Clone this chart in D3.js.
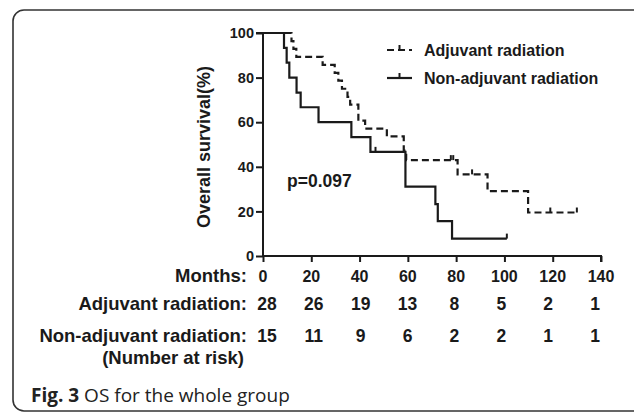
<!DOCTYPE html>
<html><head><meta charset="utf-8">
<script src="https://cdn.jsdelivr.net/npm/d3@7"></script>
<style>
html,body{margin:0;padding:0;background:#fff;}
svg{display:block;}
</style></head>
<body>
<svg id="chart" width="634" height="413"></svg>
<script>
// ---- data ----
const monthTicks = [0, 20, 40, 60, 80, 100, 120, 140];
const survTicks = [0, 20, 40, 60, 80, 100];
const seriesNames = ["Adjuvant radiation", "Non-adjuvant radiation"];

const adjTimes = [0, 11.8, 12.6, 13.8, 24.7, 29.7, 31.2, 32.7, 35.0, 36.1, 39.5, 42.3, 51.3, 58.3, 59.3, 80.6, 93.0, 109.8, 130];
const adjSurv  = [100, 96.4, 92.9, 89.3, 85.7, 82.1, 78.6, 75.0, 71.4, 67.9, 60.7, 57.1, 53.6, 47.3, 43.0, 36.6, 29.1, 19.5, 19.5];
const adjCensorTimes = [77.8, 78.8, 86.6, 119, 130];
const adjCensorSurv  = [43.0, 43.0, 36.6, 19.5, 19.5];

const nonTimes = [0, 8.7, 9.8, 10.9, 13.9, 15.6, 23.0, 36.6, 44.5, 59.0, 71.4, 72.4, 78.3, 101];
const nonSurv  = [100, 93.3, 86.7, 80.0, 73.3, 66.7, 60.0, 53.3, 46.7, 31.1, 23.3, 15.6, 7.8, 7.8];
const nonCensorTimes = [46.6, 101];
const nonCensorSurv  = [46.7, 7.8];

const riskLabels = ["Months:", "Adjuvant radiation:", "Non-adjuvant radiation:", "(Number at risk)"];
const adjRisk = [28, 26, 19, 13, 8, 5, 2, 1];
const nonRisk = [15, 11, 9, 6, 2, 2, 1, 1];
const pText = "p=0.097";
const yTitle = "Overall survival(%)";

// ---- drawing ----
const svg = d3.select("#chart");
const FONT = "'Liberation Sans', Arial, Helvetica, sans-serif";
const ink = "#1a1a1a";

// frame
svg.append("rect").attr("x", 13).attr("y", 10).attr("width", 640).attr("height", 401)
  .attr("rx", 11).attr("ry", 11).attr("fill", "none").attr("stroke", "#333").attr("stroke-width", 1.6);

const x = d3.scaleLinear().domain([0, 140]).range([263, 601]);
const y = d3.scaleLinear().domain([0, 100]).range([256, 33]);
const riskX = d3.scaleLinear().domain([0, 140]).range([267, 595]);

// axes
const yAxis = d3.axisLeft(y).tickValues(survTicks).tickSize(7).tickPadding(2);
const gy = svg.append("g").attr("transform", `translate(${x(0)},0)`).call(yAxis);
const xAxis = d3.axisBottom(x).tickValues(monthTicks).tickSize(6).tickFormat("");
const gx = svg.append("g").attr("transform", `translate(0,${y(0)})`).call(xAxis);
[gx, gy].forEach(g => {
  g.select(".domain").attr("stroke", ink).attr("stroke-width", 2);
  g.selectAll(".tick line").attr("stroke", ink).attr("stroke-width", 2);
});
gy.select(".domain").attr("d", `M-7,${y(100)}H0V${y(0)}`);
gx.select(".domain").attr("d", `M${x(0)},0H${x(140)}V6`);
gy.selectAll(".tick text").attr("font-family", FONT).attr("font-weight", "bold")
  .attr("font-size", 14.5).attr("fill", ink);

// y title
svg.append("text").attr("transform", `translate(210,147) rotate(-90)`)
  .attr("text-anchor", "middle").attr("font-family", FONT).attr("font-weight", "bold")
  .attr("font-size", 18).attr("fill", ink).text(yTitle);

// curves
function stepPath(times, surv) {
  const pts = times.map((t, i) => [t, surv[i]]);
  return d3.line().x(d => x(d[0])).y(d => y(d[1])).curve(d3.curveStepAfter)(pts);
}
svg.append("path").attr("d", stepPath(nonTimes, nonSurv)).attr("fill", "none")
  .attr("stroke", ink).attr("stroke-width", 2.2);
svg.append("path").attr("d", stepPath(adjTimes, adjSurv)).attr("fill", "none")
  .attr("stroke", ink).attr("stroke-width", 2.2).attr("stroke-dasharray", "7,4");

function censor(times, surv) {
  svg.append("g").selectAll("line").data(times).join("line")
    .attr("x1", d => x(d)).attr("x2", d => x(d))
    .attr("y1", (d, i) => y(surv[i])).attr("y2", (d, i) => y(surv[i]) - 5)
    .attr("stroke", ink).attr("stroke-width", 2);
}
censor(adjCensorTimes, adjCensorSurv);
censor(nonCensorTimes, nonCensorSurv);

// legend
const leg = svg.append("g");
const legY = [50, 78];
leg.append("line").attr("x1", 387).attr("x2", 412).attr("y1", legY[0]).attr("y2", legY[0])
  .attr("stroke", ink).attr("stroke-width", 2.2).attr("stroke-dasharray", "7,4");
leg.append("line").attr("x1", 399.5).attr("x2", 399.5).attr("y1", legY[0]).attr("y2", legY[0] - 5)
  .attr("stroke", ink).attr("stroke-width", 2);
leg.append("line").attr("x1", 387).attr("x2", 412).attr("y1", legY[1]).attr("y2", legY[1])
  .attr("stroke", ink).attr("stroke-width", 2.2);
leg.append("line").attr("x1", 399.5).attr("x2", 399.5).attr("y1", legY[1]).attr("y2", legY[1] - 5)
  .attr("stroke", ink).attr("stroke-width", 2);
leg.selectAll("text").data(seriesNames).join("text")
  .attr("x", 424).attr("y", (d, i) => legY[i] + 6)
  .attr("font-family", FONT).attr("font-weight", "bold").attr("font-size", 16).attr("fill", ink)
  .text(d => d);

// p value
svg.append("text").attr("x", 287).attr("y", 187).attr("font-family", FONT).attr("font-weight", "bold")
  .attr("font-size", 17.5).attr("fill", ink).text(pText);

// risk table
const rowY = [282, 310, 342, 364];
svg.append("g").selectAll("text").data(riskLabels).join("text")
  .attr("x", (d, i) => i === 3 ? 244 : 247).attr("y", (d, i) => rowY[i])
  .attr("text-anchor", "end").attr("font-family", FONT).attr("font-weight", "bold")
  .attr("font-size", 18.5).attr("fill", ink).text(d => d);
svg.append("g").selectAll("text").data(monthTicks).join("text")
  .attr("x", d => x(d)).attr("y", rowY[0]).attr("text-anchor", "middle")
  .attr("font-family", FONT).attr("font-weight", "bold").attr("font-size", 16).attr("fill", ink)
  .text(d => d);
[adjRisk, nonRisk].forEach((arr, r) => {
  svg.append("g").selectAll("text").data(arr).join("text")
    .attr("x", (d, i) => riskX(monthTicks[i])).attr("y", rowY[r + 1]).attr("text-anchor", "middle")
    .attr("font-family", FONT).attr("font-weight", "bold").attr("font-size", 17.5).attr("fill", ink)
    .text(d => d);
});

// caption
const cap = svg.append("text").attr("x", 31).attr("y", 402)
  .attr("font-family", "'Open Sans', sans-serif").attr("font-size", 19).attr("fill", "#222");
cap.append("tspan").attr("font-weight", "bold").text("Fig. 3");
cap.append("tspan").text(" OS for the whole group");
</script>
</body></html>
